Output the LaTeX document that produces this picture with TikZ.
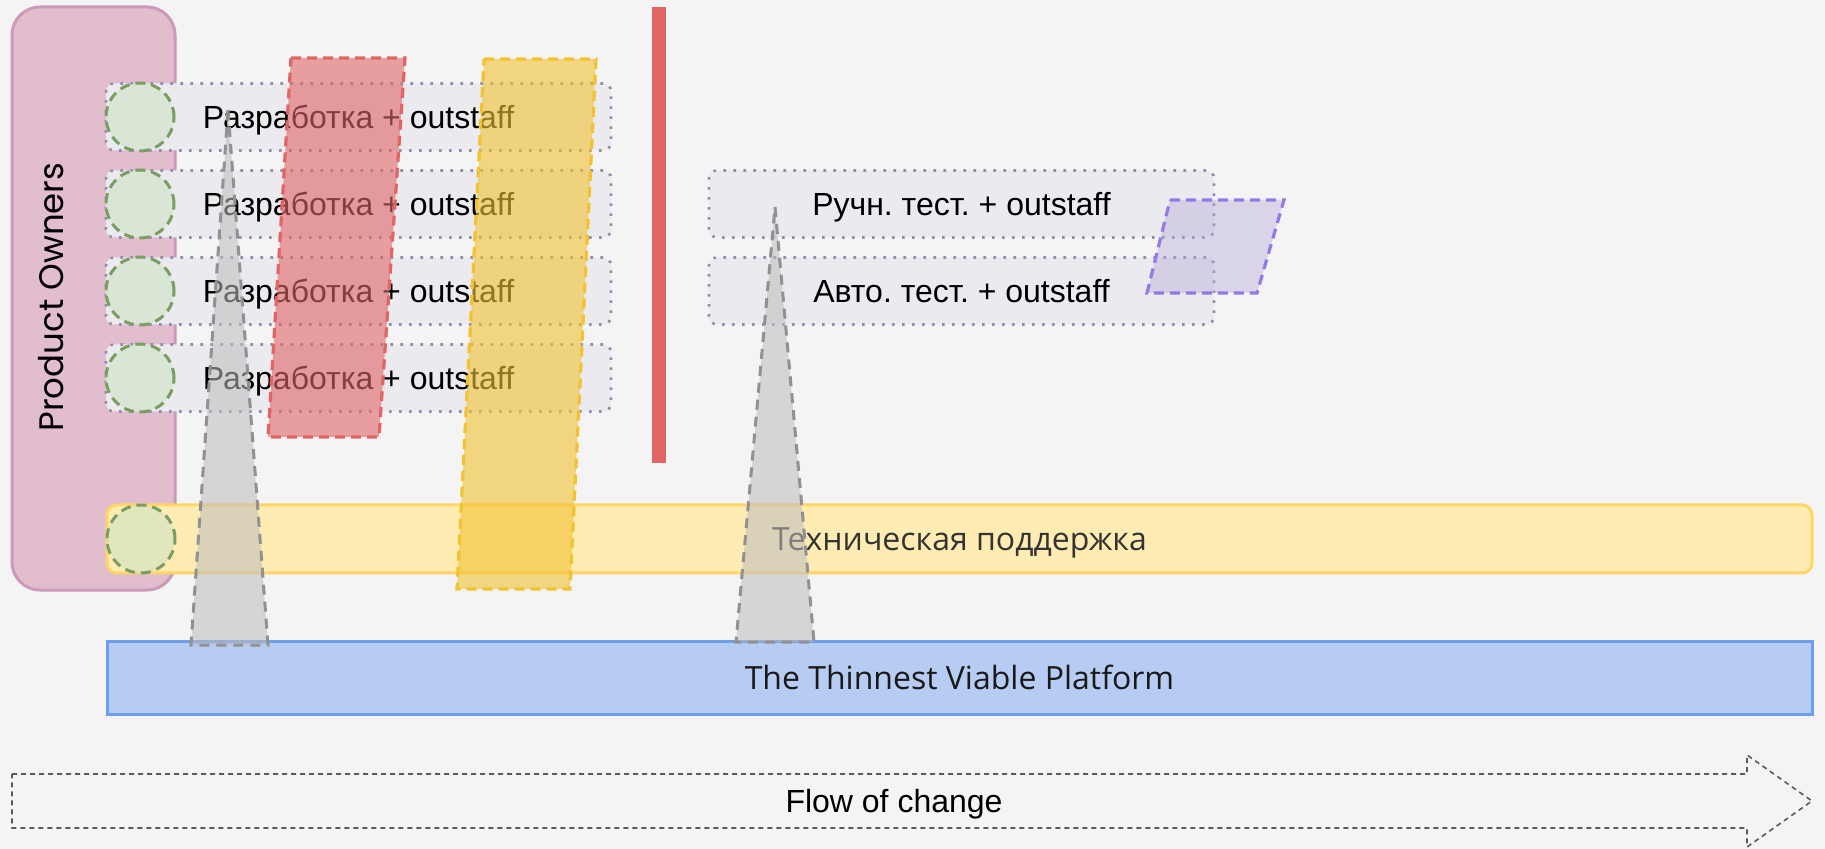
\documentclass[tikz,border=0pt]{standalone}
\usepackage{fontspec}
\setmainfont{Liberation Sans}
\newfontfamily\barfont{Open Sans}
\newfontfamily\pofont{Poppins}
\usepackage{tikz}
\usetikzlibrary{positioning}
\frenchspacing
\definecolor{bgcol}{RGB}{244,244,244}
\definecolor{pofill}{RGB}{225,189,206}
\definecolor{poline}{RGB}{204,153,186}
\definecolor{rowcol}{RGB}{235,234,239}
\definecolor{rowline}{RGB}{145,140,172}
\definecolor{dotcol}{RGB}{205,226,197}
\definecolor{dotline}{RGB}{122,158,98}
\definecolor{techcol}{RGB}{255,236,179}
\definecolor{techline}{RGB}{255,214,102}
\definecolor{platcol}{RGB}{183,204,242}
\definecolor{platline}{RGB}{109,158,235}
\definecolor{redcol}{RGB}{224,102,102}
\definecolor{yelcol}{RGB}{241,194,50}
\definecolor{trigray}{RGB}{189,189,189}
\definecolor{triline}{RGB}{145,145,145}
\definecolor{lilcol}{RGB}{180,167,214}
\definecolor{lilline}{RGB}{150,120,230}
\definecolor{flowline}{RGB}{90,90,90}

\begin{document}
\begin{tikzpicture}[x=0.5pt, y=-0.5pt,
  every node/.style={font=\fontsize{16}{19}\selectfont, outer sep=0pt},
  capbox/.style={text height=11.5pt, text depth=0pt},
  devrow/.style={capbox, fill=rowcol, draw=rowline, line width=1.3pt, dash pattern=on 1.3pt off 3.7pt,
    rounded corners=4pt, minimum width=252.5pt, minimum height=33.5pt, inner sep=0pt},
  podot/.style={circle, fill=dotcol, fill opacity=0.6, draw=dotline, line width=1.5pt,
    dash pattern=on 5pt off 3pt, minimum size=34pt, inner sep=0pt},
  longbar/.style={capbox, line width=1.5pt, minimum width=852.5pt, inner sep=0pt, font=\barfont\fontsize{16}{19}\selectfont},
  band/.style={line width=1.6pt, dash pattern=on 5pt off 3pt, fill opacity=0.6},
  spike/.style={fill=trigray, fill opacity=0.55, draw=triline, line width=1.5pt, dash pattern=on 5pt off 3.5pt},
]
\useasboundingbox (0,0) rectangle (1825,849);
\fill[bgcol] (0,0) rectangle (1825,849);
\node[fill=pofill, draw=poline, line width=1.5pt, rounded corners=14pt,
  minimum width=81.5pt, minimum height=291.5pt] (po) at (93.5,298.5) {};
\node[rotate=90, font=\pofont\fontsize{17}{20}\selectfont] (polabel) at (51,297) {Product Owners};
\foreach \i/\y in {1/117,2/204,3/291,4/378}
  \node[devrow] (dev\i) at (358.5,\y) {Разработка + outstaff};
\foreach \i in {1,...,4}
  \node[podot, anchor=west] (dot\i) at (dev\i.west) {};
\node[devrow, right=49pt of dev2] (manual) {Ручн. тест. + outstaff};
\node[devrow, right=49pt of dev3] (autotest) {Авто. тест. + outstaff};
\node[longbar, fill=techcol, draw=techline, rounded corners=5pt, minimum height=34pt,
  text=black!80] (tech) at (959.5,539) {Техническая поддержка};
\node[podot, anchor=west] (dot5) at (tech.west) {};
\node[longbar, fill=platcol, draw=platline, minimum height=36.5pt,
  below=34pt of tech, text=black!90] (platform) {The Thinnest Viable Platform};
\fill[redcol] (652,7) rectangle (666,463);
\draw[band, fill=redcol, draw=redcol] (291,58) -- (405,58) -- (379,437) -- (268,437) -- cycle;
\draw[band, fill=yelcol, draw=yelcol] (484,59) -- (596,59) -- (570,589) -- (457,589) -- cycle;
\draw[spike] (228,110) -- (268,645) -- (191,645) -- cycle;
\draw[spike] (775,207) -- (814,642) -- (736,642) -- cycle;
\draw[band, fill=lilcol, fill opacity=0.4, draw=lilline] (1170,200) -- (1284,200) -- (1257,293) -- (1147,293) -- cycle;
\draw[flowline, line width=0.8pt, dash pattern=on 2.5pt off 2pt]
  (12,774) -- (1747,774) -- (1747,755) -- (1812,801) -- (1747,847) -- (1747,828) -- (12,828) -- cycle;
\node[capbox] (flow) at (894,801) {Flow of change};
\end{tikzpicture}
\end{document}
